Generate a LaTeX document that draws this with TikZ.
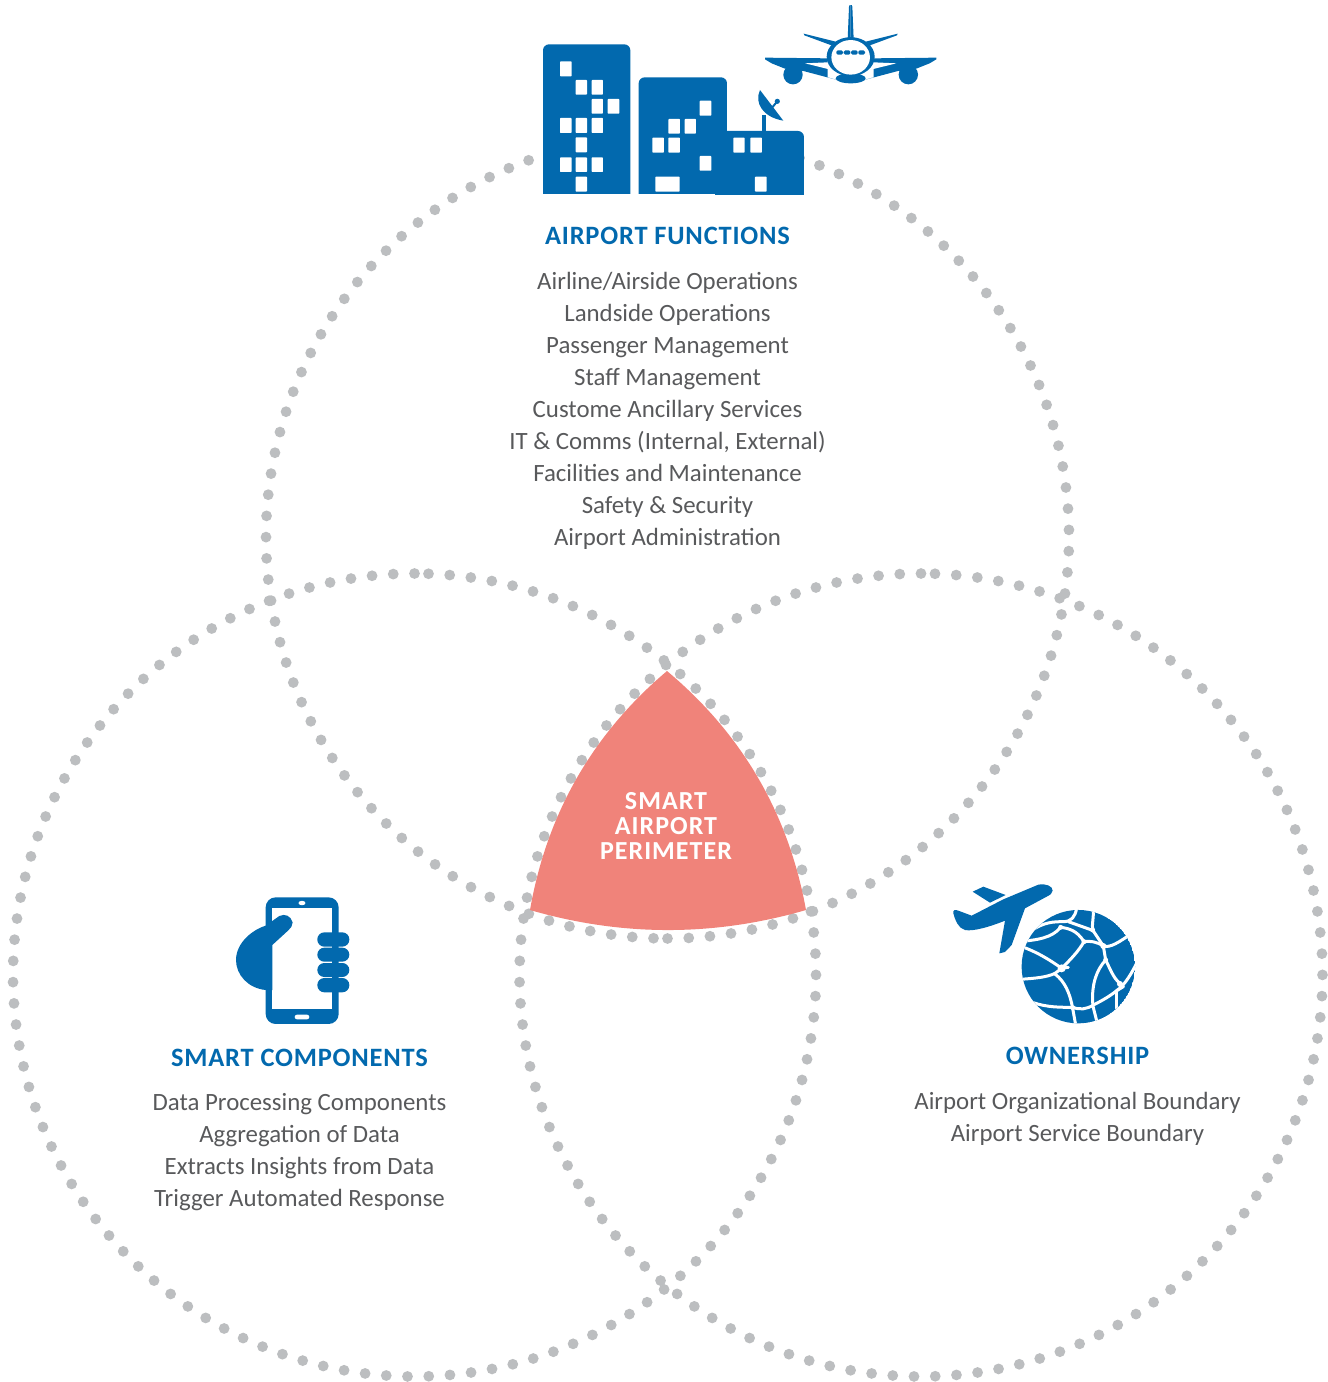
\documentclass[tikz,border=0pt]{standalone}
\usepackage{fontspec}
\setmainfont{Carlito}
\definecolor{iconblue}{HTML}{0269AE}
\definecolor{dotgrey}{HTML}{BCBEC0}
\definecolor{pinkfill}{HTML}{F0837A}
\definecolor{bodygrey}{HTML}{58595B}
\tikzset{
  bodytext/.style={text=bodygrey,align=center,font=\fontsize{24.85}{32}\selectfont,inner sep=0pt},
  titletext/.style={text=iconblue,font=\fontsize{26.5}{30}\selectfont\bfseries\addfontfeatures{LetterSpace=3},inner sep=0pt},
  centertext/.style={text=white,align=center,font=\fontsize{26}{25.2}\selectfont\bfseries\addfontfeatures{LetterSpace=4},inner sep=0pt},
  hole/.style={fill=white,draw=none,rounded corners=0.7pt},
  net/.style={draw=white,line width=3pt,line cap=round,line join=round}
}
\newcommand{\dotring}[3]{%
  \pgfmathsetmacro{\stepdeg}{(360-14/401.5*180/pi)/118}
  \foreach \k in {0,...,118}{
    \pgfmathsetmacro{\ang}{#3-\k*\stepdeg}
    \fill[dotgrey] ({#1+401.5*cos(\ang)},{#2+401.5*sin(\ang)}) circle[radius=5.4pt];
  }}
\begin{document}
\begin{tikzpicture}[x=1pt,y=-1pt]
\useasboundingbox (0,0) rectangle (1328,1382);
% dotted rings (y axis points down, so decreasing angle runs visually counter-clockwise)
\dotring{667.5}{537}{90}
\dotring{414.5}{975}{-90}
\dotring{921}{975}{-90}
% central pink area
\fill[pinkfill] (667,671) .. controls (592.4,734.1) and (546.8,813.7) .. (530,910)
  .. controls (622,936.7) and (714,936.7) .. (806,910)
  .. controls (788.5,813.5) and (742.1,733.9) .. (667,671) -- cycle;
\node[centertext] (centre) at (666,826) {SMART\\AIRPORT\\PERIMETER};
% buildings
\begin{scope}[shift={(530,0)},x=0.3333pt,y=-0.3333pt]
  \fill[white] (39,120) rectangle (822,590);
  \fill[iconblue,rounded corners=6pt] (39,620) -- (39,133) -- (301,133) -- (301,620) -- cycle;
  \fill[iconblue,rounded corners=6pt] (326,620) -- (326,232) -- (591,232) -- (591,620) -- cycle;
  \fill[iconblue,rounded corners=6pt] (556,620) -- (556,393) -- (822,393) -- (822,620) -- cycle;
  \fill[white] (30,581) rectangle (830,640);
  \fill[iconblue] (556,581) rectangle (822,586);
  \foreach \xa/\ya/\xb/\yb in {90/184/125/229,137/240/171/284,185/240/219/284,185/297/219/341,233/297/268/341,
    90/354/125/399,137/354/171/399,185/354/219/399,137/412/171/457,90/472/125/516,137/472/171/516,185/472/219/516,137/530/171/575,
    509/302/544/347,415/357/450/401,464/357/498/401,367/413/402/458,415/413/450/458,509/468/544/512,376/530/449/575,
    610/413/644/458,661/413/696/458,675/530/710/575}{
    \fill[hole] (\xa,\ya) rectangle (\xb,\yb);
  }
  \fill[iconblue] (697,345) rectangle (708,395);
  \fill[iconblue] (690,270) .. controls (672,310) and (700,352) .. (760,362) -- cycle;
  \draw[iconblue,line width=2pt] (722,328) -- (742,304);
  \fill[iconblue] (742,304) circle[radius=2.6pt];
\end{scope}
% airliner
\begin{scope}[shift={(850.67,0)},x=0.3333pt,y=-0.3333pt]
  \foreach \s in {1,-1}{
    \begin{scope}[xscale=\s]
      \fill[iconblue] (-257,173) -- (-69,175) -- (-69,232) -- (-40,240) -- (-142,213) -- (-197,206) -- (-237,190) -- (-257,178) -- cycle;
      \fill[iconblue] (-173,224) circle[radius=9.7pt];
      \fill[white] (-137,190) -- (-69,187) -- (-60,209) -- cycle;
      \fill[iconblue] (-141,101) -- (-139,106) -- (-55,137) -- (-45,125) -- cycle;
      \fill[iconblue] (-3,15) -- (-5,20) -- (-9,118) -- (0,118) -- (0,15) -- cycle;
    \end{scope}
  }
  \fill[iconblue] (0,235) ellipse[x radius=15pt,y radius=5pt];
  \fill[iconblue] (0,170) ellipse[x radius=24pt,y radius=19.5pt];
  \fill[white] (0,172) ellipse[x radius=19.3pt,y radius=17.3pt];
  \foreach \px in {-33,-11,11,33}{
    \fill[iconblue,rounded corners=1.5pt] (\px-10,151) rectangle (\px+10,164);
  }
\end{scope}
% phone
\begin{scope}[shift={(220,885)},x=0.3333pt,y=-0.3333pt]
  \fill[iconblue,rounded corners=10pt] (137,37) rectangle (356,417);
  \fill[white] (157,68) rectangle (336,372);
  \fill[white] (246,54) ellipse[x radius=3.5pt,y radius=2.2pt];
  \fill[white,rounded corners=2.3pt] (224,389) rectangle (268,403);
  \fill[iconblue] (157,315) -- (137,315) .. controls (85,310) and (48,270) .. (48,225) .. controls (48,175) and (95,135) .. (137,122) -- (178,93) .. controls (195,85) and (212,92) .. (218,112) .. controls (218,122) and (212,130) .. (205,136) -- (157,180) -- cycle;
  \foreach \ya/\yb in {142/185,188/230,234/276,279/322}{
    \fill[iconblue,rounded corners=7pt] (292,\ya) rectangle (388,\yb);
  }
\end{scope}
% plane and globe
\begin{scope}[shift={(940,870)},x=0.3333pt,y=-0.3333pt]
  \fill[iconblue] (98,65) -- (130,50) -- (197,75) -- (150,98) -- cycle;
  \fill[iconblue] (338,62) .. controls (338,48) and (318,40) .. (295,44) -- (190,88) -- (95,137) -- (55,122) .. controls (45,118) and (38,120) .. (40,130) .. controls (45,150) and (55,175) .. (75,180) .. controls (100,185) and (150,170) .. (195,152) -- (178,250) -- (195,246) -- (215,225) -- (255,115) -- (320,80) .. controls (330,75) and (338,70) .. (338,62) -- cycle;
  \begin{scope}
    \clip (415,290) circle[radius=56.7pt];
    \fill[iconblue] (415,290) circle[radius=56.7pt];
    \draw[net] (410,115) .. controls (405,140) and (395,155) .. (370,155) .. controls (345,155) and (310,155) .. (270,185);
    \draw[net] (235,215) .. controls (290,210) and (335,205) .. (362,172) .. controls (385,175) and (410,180) .. (432,215);
    \draw[net] (385,155) -- (455,180);
    \draw[net] (460,110) .. controls (462,140) and (455,165) .. (458,180) -- (490,228);
    \draw[net] (490,228) .. controls (510,235) and (540,215) .. (575,190);
    \draw[net] (432,215) .. controls (450,212) and (470,215) .. (490,228);
    \draw[net] (432,215) .. controls (415,245) and (390,270) .. (365,295);
    \draw[net] (240,228) .. controls (290,245) and (330,270) .. (365,295);
    \draw[net] (240,328) .. controls (285,325) and (320,322) .. (345,310) -- (365,295) -- (385,292);
    \draw[net] (345,312) .. controls (375,335) and (390,370) .. (398,415);
    \draw[net] (280,398) .. controls (320,412) and (360,412) .. (398,412) .. controls (420,420) and (440,418) .. (460,405) .. controls (490,390) and (510,378) .. (530,362) .. controls (555,345) and (575,310) .. (595,270);
    \draw[net] (490,228) -- (497,270) .. controls (510,295) and (520,325) .. (540,340) -- (550,350) -- (530,362);
    \draw[net] (497,270) .. controls (470,300) and (455,340) .. (458,400);
    \draw[net] (530,362) -- (530,415);
    \draw[net] (398,415) -- (408,470);
    \draw[net] (458,405) -- (472,460);
    \foreach \jx/\jy/\jr in {365/295/4,490/228/3,432/215/2.5,497/270/2.5,540/342/3,398/413/2.5,458/180/2.5,362/172/2.5}{
      \fill[white] (\jx,\jy) circle[radius=\jr pt];
    }
  \end{scope}
\end{scope}
% texts
\node[titletext] (t1) at (667.5,236) {AIRPORT FUNCTIONS};
\node[bodytext] (b1) at (667.5,410.5) {Airline/Airside Operations\\Landside Operations\\Passenger Management\\Staff Management\\Custome Ancillary Services\\IT \& Comms (Internal, External)\\Facilities and Maintenance\\Safety \& Security\\Airport Administration};
\node[titletext] (t2) at (299.5,1058) {SMART COMPONENTS};
\node[bodytext] (b2) at (299.5,1152.5) {Data Processing Components\\Aggregation of Data\\Extracts Insights from Data\\Trigger Automated Response};
\node[titletext] (t3) at (1077.5,1056) {OWNERSHIP};
\node[bodytext] (b3) at (1077.5,1118.5) {Airport Organizational Boundary\\Airport Service Boundary};
\end{tikzpicture}
\end{document}
